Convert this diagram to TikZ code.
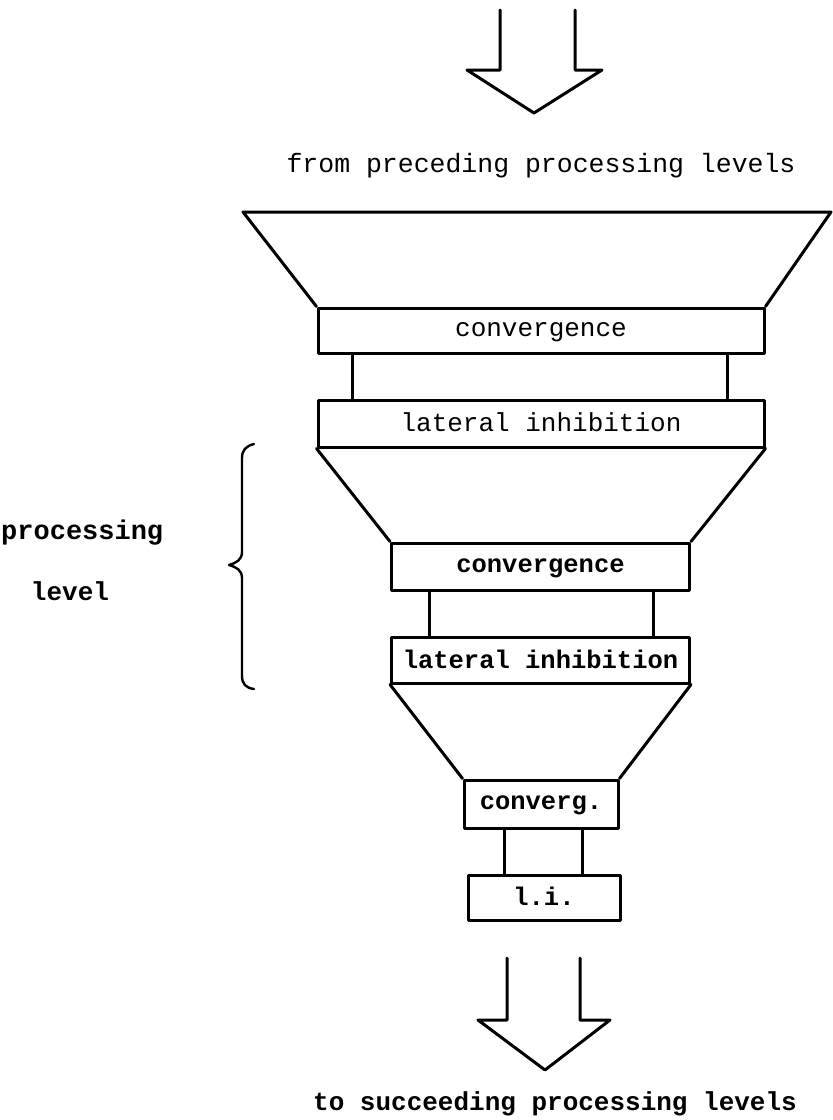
\documentclass[tikz,border=0pt]{standalone}
\usepackage{fontspec}
\setmonofont{Liberation Mono}
\begin{document}
\begin{tikzpicture}[x=1pt,y=-1pt,
  ln/.style={line width=3pt,line join=round,line cap=round},
  box/.style={ln,draw,inner sep=0pt,font=\ttfamily\fontsize{26}{26}\selectfont},
  boldbox/.style={box,font=\ttfamily\bfseries\fontsize{25.5}{26}\selectfont},
  lbl/.style={inner sep=0pt,font=\ttfamily\fontsize{26.5}{27}\selectfont},
  boldlbl/.style={inner sep=0pt,font=\ttfamily\bfseries\fontsize{26}{27}\selectfont}]
\useasboundingbox (0,0) rectangle (833,1120);
\clip (0,0) rectangle (833,1120);

% top arrow
\draw[ln] (500,10) -- (500,70) -- (467,70) -- (534,113) -- (602,70) -- (575,70) -- (575,10);
\node[lbl] (from) at (541,166) {from preceding processing levels};

% boxes
\node[box,minimum width=446pt,minimum height=45pt,text depth=2pt] (conv1) at (541,330.5) {convergence};
\node[box,minimum width=446pt,minimum height=47pt,text depth=2pt] (lat1) at (541,423.5) {lateral inhibition};
\node[boldbox,minimum width=298pt,minimum height=47pt,text depth=2pt] (conv2) at (540.5,566.5) {convergence};
\node[boldbox,minimum width=298pt,minimum height=46pt,text depth=2pt] (lat2) at (540.5,660) {lateral inhibition};
\node[boldbox,minimum width=154pt,minimum height=48pt,text depth=2pt] (conv3) at (541,804) {converg.};
\node[boldbox,minimum width=152pt,minimum height=45pt,text depth=2pt] (li3) at (544,897.5) {l.i.};

% funnels
\coordinate (t1l) at (243,212);
\coordinate (t1r) at (831,212);
\draw[ln] (conv1.north west) -- (t1l) -- (t1r) -- (conv1.north east);
\draw[ln] (lat1.south west) -- (conv2.north west);
\draw[ln] (lat1.south east) -- (conv2.north east);
\draw[ln] (lat2.south west) -- (conv3.north west);
\draw[ln] (lat2.south east) -- (conv3.north east);

% connectors
\draw[ln] ([xshift=36pt]conv1.south west) -- ([xshift=36pt]lat1.north west);
\draw[ln] ([xshift=-38pt]conv1.south east) -- ([xshift=-38pt]lat1.north east);
\draw[ln] ([xshift=39pt]conv2.south west) -- ([xshift=39pt]lat2.north west);
\draw[ln] ([xshift=-38pt]conv2.south east) -- ([xshift=-38pt]lat2.north east);
\draw[ln] ([xshift=42pt]conv3.south west) -- ([xshift=42pt]conv3.south west |- li3.north);
\draw[ln] ([xshift=-37pt]conv3.south east) -- ([xshift=-37pt]conv3.south east |- li3.north);

% bottom arrow
\draw[ln] (507,958) -- (507,1020) -- (478,1020) -- (545,1070) -- (610,1020) -- (580,1020) -- (580,958);
\node[boldlbl] (to) at (555,1104) {to succeeding processing levels};

% brace
\draw[line width=2.4pt,line cap=round,line join=round]
  (254,444) .. controls (246,446) and (242,450) .. (242,458) -- (242,552)
  .. controls (242,560) and (236,563) .. (229,565)
  .. controls (236,567) and (242,570) .. (242,578) -- (242,676)
  .. controls (242,684) and (246,688) .. (254,689);
\node[boldlbl,anchor=west,font=\ttfamily\bfseries\fontsize{27}{27}\selectfont] (proc) at (1,533) {processing};
\node[boldlbl] (lev) at (70,591) {level};
\end{tikzpicture}
\end{document}
